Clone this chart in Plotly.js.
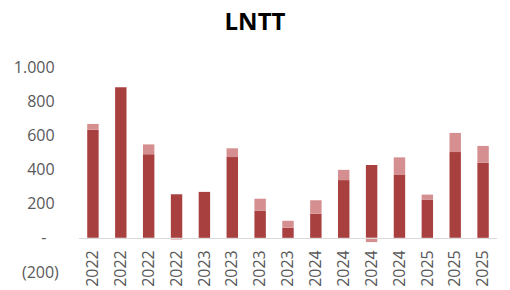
<!DOCTYPE html>
<html>
<head>
<meta charset="utf-8">
<script src="https://cdn.plot.ly/plotly-3.0.1.min.js"></script>
<style>html,body{margin:0;padding:0;background:#fff;}#chart{width:510px;height:290px;}</style>
</head>
<body>
<div id="chart"></div>
<script>
const categories = ['2022','2022','2022','2022','2023','2023','2023','2023','2024','2024','2024','2024','2025','2025','2025'];
const baseValues = [633, 882, 490, 255, 269, 473, 159, 59, 141, 338, 426, 371, 224, 502, 439];
const extraValues = [34, 0, 57, -10, 0, 51, 70, 41, 79, 60, -25, 100, 29, 112, 99];
const yTickVals = [-200, 0, 200, 400, 600, 800, 1000];
const yTickText = ['(200)', '-\u00a0\u00a0\u00a0', '200\u00a0', '400\u00a0', '600\u00a0', '800\u00a0', '1.000\u00a0'];

const xIdx = categories.map((c, i) => i);

const traces = [
  {type: 'bar', x: xIdx, y: baseValues, marker: {color: '#A8403F'}, hoverinfo: 'none'},
  {type: 'bar', x: xIdx, y: extraValues, marker: {color: '#D68F90'}, hoverinfo: 'none'}
];

const layout = {
  width: 510, height: 290,
  margin: {l: 79, r: 13, t: 67, b: 18},
  paper_bgcolor: '#ffffff', plot_bgcolor: '#ffffff',
  barmode: 'relative',
  bargap: 0.59,
  showlegend: false,
  title: {text: 'LNTT', x: 0.5, xanchor: 'center', y: 0.925, yanchor: 'middle', yref: 'container',
          font: {family: 'Open Sans, sans-serif', size: 24, color: '#000000', weight: 'bold'}},
  xaxis: {
    tickmode: 'array', tickvals: xIdx, ticktext: categories,
    tickangle: -90, range: [-0.5, 14.5],
    anchor: 'free', position: 1/6,
    showline: true, linecolor: '#d9d9d9', linewidth: 1,
    showgrid: false, zeroline: false, ticks: '', ticklabelstandoff: 5,
    tickfont: {family: 'Open Sans, sans-serif', size: 16, color: '#595959'}
  },
  yaxis: {
    range: [-200, 1000], tickmode: 'array', tickvals: yTickVals, ticktext: yTickText,
    showgrid: false, zeroline: false, showline: false,
    ticks: 'outside', ticklen: 16, tickcolor: 'rgba(0,0,0,0)',
    tickfont: {family: 'Open Sans, sans-serif', size: 16, color: '#595959'}
  }
};

Plotly.newPlot('chart', traces, layout, {displayModeBar: false, staticPlot: true});
</script>
</body>
</html>
